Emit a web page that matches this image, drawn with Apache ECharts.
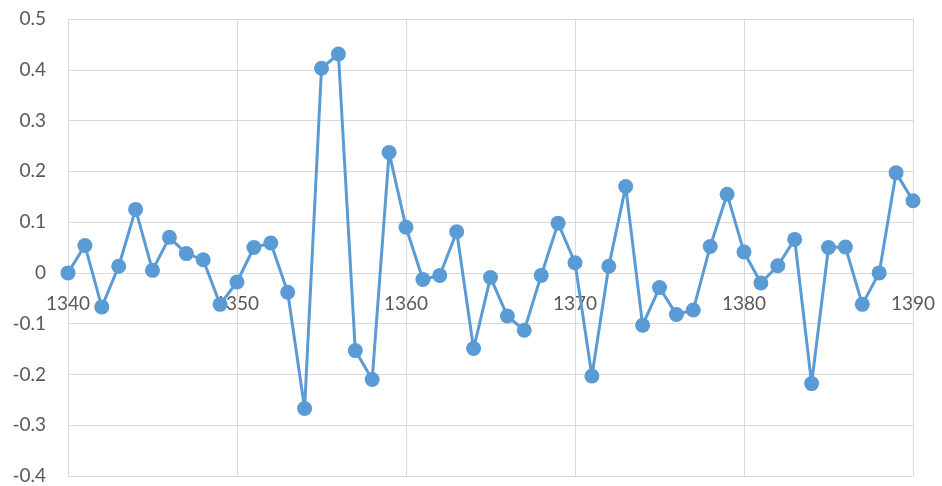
<!DOCTYPE html>
<html>
<head>
<meta charset="utf-8">
<script src="https://cdn.jsdelivr.net/npm/echarts@6/dist/echarts.min.js"></script>
<style>
html, body { margin: 0; padding: 0; background: #fff; }
#chart { width: 942px; height: 486px; }
</style>
</head>
<body>
<div id="chart"></div>
<script>
// years 1340..1390
var years = [1340, 1341, 1342, 1343, 1344, 1345, 1346, 1347, 1348, 1349,
  1350, 1351, 1352, 1353, 1354, 1355, 1356, 1357, 1358, 1359,
  1360, 1361, 1362, 1363, 1364, 1365, 1366, 1367, 1368, 1369,
  1370, 1371, 1372, 1373, 1374, 1375, 1376, 1377, 1378, 1379,
  1380, 1381, 1382, 1383, 1384, 1385, 1386, 1387, 1388, 1389, 1390];
var values = [0.000, 0.054, -0.067, 0.013, 0.125, 0.005, 0.070, 0.038, 0.026, -0.062,
  -0.018, 0.050, 0.059, -0.038, -0.267, 0.403, 0.431, -0.153, -0.210, 0.237,
  0.090, -0.013, -0.005, 0.081, -0.149, -0.009, -0.085, -0.113, -0.005, 0.098,
  0.020, -0.203, 0.013, 0.170, -0.103, -0.029, -0.082, -0.073, 0.052, 0.155,
  0.041, -0.020, 0.014, 0.066, -0.218, 0.050, 0.051, -0.062, 0.000, 0.197, 0.142];

var yMin = -0.4, yMax = 0.5;
var seriesData = years.map(function (y, i) { return [y, values[i]]; });

var chartDom = document.getElementById('chart');
var myChart = echarts.init(chartDom);

var gridTop = 19, gridBottom = 10;
// put the x axis on the 0 line (Excel style)
var plotH = 486 - gridTop - gridBottom;
var zeroOffset = -plotH * (0 - yMin) / (yMax - yMin);

var labelStyle = { color: '#595959', fontSize: 19, fontFamily: 'Lato' };

myChart.setOption({
  animation: false,
  grid: { left: 68, right: 29, top: gridTop, bottom: gridBottom, outerBoundsMode: 'none' },
  xAxis: {
    type: 'value',
    min: 1340,
    max: 1390,
    interval: 10,
    offset: zeroOffset,
    axisLine: { show: false },
    axisTick: { show: false },
    axisLabel: Object.assign({ margin: 21, formatter: function (v) { return String(v); } }, labelStyle),
    splitLine: { show: true, lineStyle: { color: '#d9d9d9', width: 1 } }
  },
  yAxis: {
    type: 'value',
    min: yMin,
    max: yMax,
    interval: 0.1,
    axisLine: { show: false },
    axisTick: { show: false },
    axisLabel: Object.assign({ margin: 22, formatter: function (v) {
      return String(Math.round(v * 10) / 10);
    } }, labelStyle),
    splitLine: { show: true, lineStyle: { color: '#d9d9d9', width: 1 } }
  },
  series: [{
    type: 'line',
    data: seriesData,
    symbol: 'circle',
    symbolSize: 15,
    lineStyle: { color: '#5b9bd5', width: 3 },
    itemStyle: { color: '#5b9bd5' }
  }]
});

window.onresize = function () {
  myChart.resize();
};
</script>
</body>
</html>
